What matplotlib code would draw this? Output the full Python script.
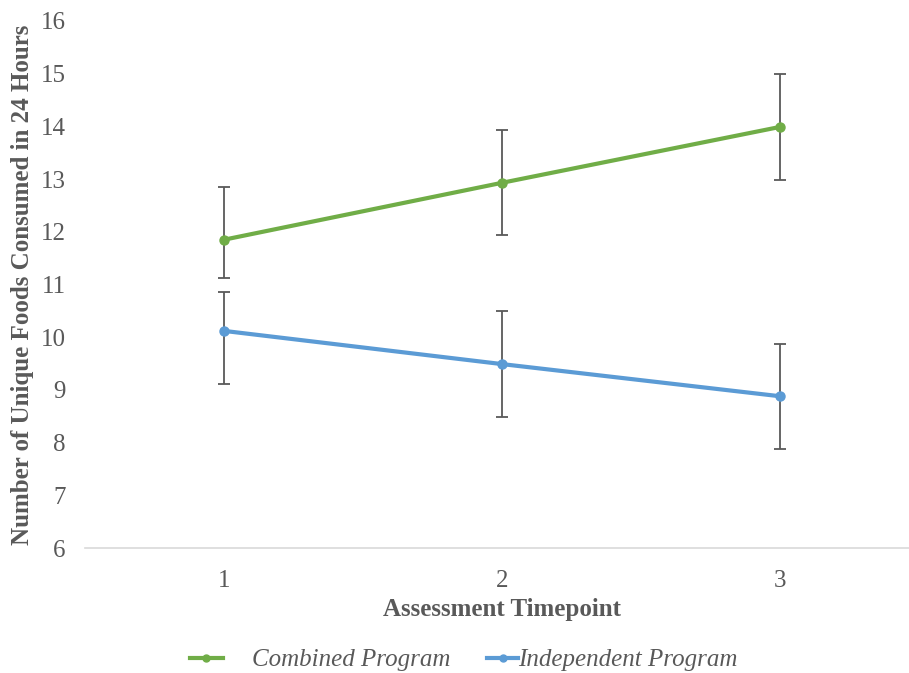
import matplotlib.pyplot as plt
from matplotlib.lines import Line2D

timepoints = [1, 2, 3]
combined = [11.85, 12.93, 13.99]
combined_lo = [0.73, 1.0, 1.0]
combined_hi = [1.0, 1.0, 1.0]
independent = [10.12, 9.49, 8.88]
independent_lo = [1.0, 1.0, 1.0]
independent_hi = [0.74, 1.0, 1.0]

gray = '#595959'
green = '#70AD47'
blue = '#5B9BD5'
plt.rcParams['font.family'] = 'Liberation Serif'

fig = plt.figure(figsize=(9.09, 6.73), dpi=100)
ax = fig.add_axes([0.0935, 0.1857, 0.9175, 0.7831])

ax.errorbar(timepoints, combined, yerr=[combined_lo, combined_hi], color=green,
            lw=3, marker='o', ms=6.5, ecolor=gray, elinewidth=1.3, capsize=4, capthick=1.3,
            zorder=3)
ax.errorbar(timepoints, independent, yerr=[independent_lo, independent_hi], color=blue,
            lw=3, marker='o', ms=6.5, ecolor=gray, elinewidth=1.3, capsize=4, capthick=1.3,
            zorder=3)

ax.set_xlim(0.5, 3.5)
ax.set_ylim(6, 16)
ax.set_xticks(timepoints)
ax.set_yticks(range(6, 17))
ax.tick_params(length=0, labelsize=18, colors=gray)
ax.tick_params(axis='x', pad=16)
ax.tick_params(axis='y', pad=14)
for s in ['top', 'right', 'left']:
    ax.spines[s].set_visible(False)
ax.spines['bottom'].set_color('#D9D9D9')
ax.spines['bottom'].set_linewidth(1.2)

ax.set_xlabel('Assessment Timepoint', fontsize=18, fontweight='bold', color=gray, labelpad=4)
ax.set_ylabel('Number of Unique Foods Consumed in 24 Hours', fontsize=18,
              fontweight='bold', color=gray)
ax.yaxis.set_label_coords(-0.061, 0.50)

# two separate legend entries, spaced like the reference
entries = [('Combined Program', green, 190, 1.3, 1.2),
           ('Independent Program', blue, 487, 1.25, 0.0)]
for label, col, x0, hl, pad in entries:
    h = Line2D([], [], color=col, lw=3, marker='o', ms=5)
    leg = fig.legend([h], [label], loc='center left', bbox_to_anchor=(x0 / 909, 0.019),
                     frameon=False, prop={'style': 'italic', 'size': 18}, borderpad=0,
                     borderaxespad=0, handlelength=hl, handletextpad=pad)
    leg.get_texts()[0].set_color(gray)

fig.savefig('out.png', dpi=100)
